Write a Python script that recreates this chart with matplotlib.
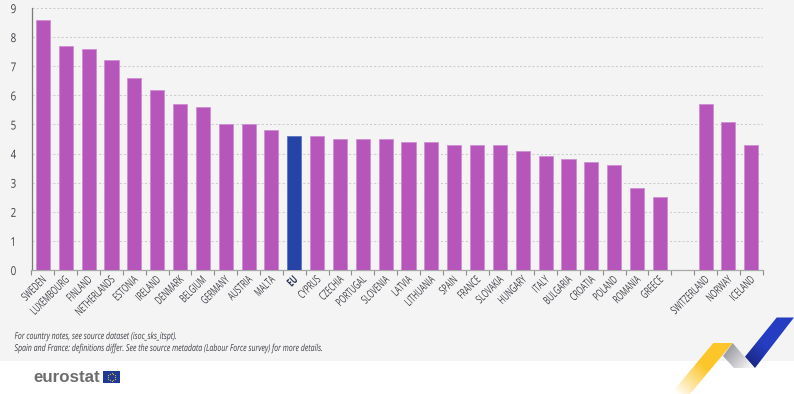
import numpy as np
import matplotlib
matplotlib.use('Agg')
import matplotlib.pyplot as plt
from matplotlib.patches import Polygon, Rectangle
from matplotlib.patheffects import AbstractPathEffect
from matplotlib.transforms import Affine2D, ScaledTranslation

plt.rcParams['font.family'] = ['Open Sans', 'DejaVu Sans']

# data (empty label = gap between EU countries and EFTA)
countries = ['SWEDEN', 'LUXEMBOURG', 'FINLAND', 'NETHERLANDS', 'ESTONIA', 'IRELAND',
             'DENMARK', 'BELGIUM', 'GERMANY', 'AUSTRIA', 'MALTA', 'EU', 'CYPRUS',
             'CZECHIA', 'PORTUGAL', 'SLOVENIA', 'LATVIA', 'LITHUANIA', 'SPAIN',
             'FRANCE', 'SLOVAKIA', 'HUNGARY', 'ITALY', 'BULGARIA', 'CROATIA',
             'POLAND', 'ROMANIA', 'GREECE', '', 'SWITZERLAND', 'NORWAY', 'ICELAND']
values = [8.6, 7.7, 7.6, 7.2, 6.6, 6.2, 5.7, 5.6, 5.0, 5.0, 4.8, 4.6, 4.6, 4.5, 4.5, 4.5,
          4.4, 4.4, 4.3, 4.3, 4.3, 4.1, 3.9, 3.8, 3.7, 3.6, 2.8, 2.5, 0, 5.7, 5.1, 4.3]
y_ticks = [0, 1, 2, 3, 4, 5, 6, 7, 8, 9]

W, H = 794, 394
PURPLE = '#b656bb'
PURPLE_EDGE = '#cd8ed1'
BLUE = '#2644a7'
BLUE_EDGE = '#5a74c0'
TEXT = '#3e3e46'


class Squeeze(AbstractPathEffect):
    # no condensed font installed: narrow the glyphs along the text direction
    def __init__(self, sx, anchor='left'):
        super().__init__()
        self.sx = sx
        self.anchor = anchor

    def draw_path(self, renderer, gc, tpath, affine, rgbFace=None):
        ext = tpath.get_extents()
        x = {'left': 0, 'right': ext.x1, 'center': (ext.x0 + ext.x1) / 2}[self.anchor]
        pre = Affine2D().translate(-x, 0).scale(self.sx, 1).translate(x, 0)
        renderer.draw_path(gc, tpath, pre + affine, rgbFace)


fig = plt.figure(figsize=(W / 100, H / 100), dpi=100, facecolor='white')

# overlay in pixel coords for background, ribbon and logo
bg = fig.add_axes([0, 0, 1, 1], zorder=0)
bg.set_xlim(0, W)
bg.set_ylim(H, 0)
bg.axis('off')
bg.add_patch(Rectangle((0, 0), W, 360.5, facecolor='#f4f4f4', edgecolor='none'))


def ribbon(points, c_start, c_end, p0, p1):
    # polygon filled with a linear gradient running from p0 to p1
    xs, ys = np.meshgrid(np.arange(0, W, 0.5), np.arange(0, H, 0.5))
    p0 = np.array(p0, float)
    d = np.array(p1, float) - p0
    t = np.clip(((xs - p0[0]) * d[0] + (ys - p0[1]) * d[1]) / (d @ d), 0, 1)[..., None]
    img = np.array(c_start) * (1 - t) + np.array(c_end) * t
    im = bg.imshow(img, extent=(0, W, H, 0), interpolation='bilinear', aspect='auto', zorder=2)
    poly = Polygon(points, closed=True, transform=bg.transData, facecolor='none', edgecolor='none')
    bg.add_patch(poly)
    im.set_clip_path(poly)


ribbon([(776.7, 317.5), (794, 317.5), (755, 368), (745, 356.7)],
       (0.15, 0.24, 0.76), (0.10, 0.15, 0.50), (765, 345), (748, 364))
ribbon([(732.7, 343), (754, 368), (734, 368), (723, 356)],
       (0.60, 0.60, 0.63), (0.96, 0.96, 0.96), (727, 348), (750, 366))
ribbon([(713.3, 343), (732.7, 343), (690, 394), (670.7, 394)],
       (0.99, 0.78, 0.17), (1.0, 1.0, 1.0), (706, 368), (678, 396))
bg.set_xlim(0, W)
bg.set_ylim(H, 0)

# eurostat logo
bg.text(33, 377, 'eurostat', fontsize=12.2, fontweight='bold', color='#6d6d6d',
        family=['Liberation Sans', 'DejaVu Sans'], ha='left', va='center')
bg.add_patch(Rectangle((103, 371.3), 17, 11.7, facecolor='#1f3a93', edgecolor='none'))
angles = np.linspace(0, 2 * np.pi, 12, endpoint=False)
bg.scatter(111.5 + 3.6 * np.cos(angles), 377 + 3.6 * np.sin(angles), s=0.8, color='#d9b43a',
           linewidths=0, zorder=3)

# footnotes
note_fx = [Squeeze(0.73)]
bg.text(14.5, 336.5, 'For country notes, see source dataset (isoc_sks_itspt).', fontsize=6.9,
        style='italic', color=TEXT, ha='left', va='center', path_effects=note_fx)
bg.text(14.5, 348.5, 'Spain and France: definitions differ. See the source metadata (Labour Force survey) for more details.',
        fontsize=6.9, style='italic', color=TEXT, ha='left', va='center', path_effects=note_fx)

# main chart
x0, x1, y_top, y_bot = 31.5, 762.7, 8, 270
ax = fig.add_axes([x0 / W, 1 - y_bot / H, (x1 - x0) / W, (y_bot - y_top) / H], zorder=1)
ax.patch.set_alpha(0)

x = np.arange(len(countries))
colors = [BLUE if c == 'EU' else PURPLE for c in countries]
edges = [BLUE_EDGE if c == 'EU' else PURPLE_EDGE for c in countries]
ax.bar(x, values, width=0.615, color=colors, edgecolor=edges, linewidth=0.6, zorder=3)

ax.set_xlim(-0.5, len(countries) - 0.5)
ax.set_ylim(0, 9)
ax.set_yticks(y_ticks)
ax.grid(True, axis='y', color='#cccccc', linestyle=(0, (2, 2)), linewidth=0.75, zorder=0)
ax.tick_params(axis='y', length=0, pad=13, labelsize=8.8, labelcolor=TEXT)
for lab in ax.get_yticklabels():
    lab.set_ha('center')
    lab.set_path_effects([Squeeze(0.8, 'center')])

# ticks sit on category boundaries, labels on category centres
ax.set_xticks(np.arange(len(countries) + 1) - 0.5)
ax.set_xticklabels([])
ax.tick_params(axis='x', which='major', length=3.5, width=0.8, color='#8c8c8c')
ax.set_xticks(x, minor=True)
ax.set_xticklabels(countries, minor=True, rotation=45, rotation_mode='anchor',
                   ha='right', va='center', fontsize=8.2, color=TEXT)
ax.tick_params(axis='x', which='minor', length=0, pad=6)
nudge = ScaledTranslation(2.5 / 100, 0, fig.dpi_scale_trans)
for lab in ax.get_xticklabels(minor=True):
    lab.set_path_effects([Squeeze(0.64, 'right')])
    lab.set_transform(lab.get_transform() + nudge)
    if lab.get_text() == 'EU':
        lab.set_fontweight('bold')
        lab.set_color('#26324f')

for side in ['top', 'right']:
    ax.spines[side].set_visible(False)
ax.spines['left'].set_color('#7a7a7a')
ax.spines['left'].set_linewidth(0.9)
ax.spines['bottom'].set_color('#a8a8a8')
ax.spines['bottom'].set_linewidth(0.9)

plt.savefig('out.png', dpi=100)
plt.close()
